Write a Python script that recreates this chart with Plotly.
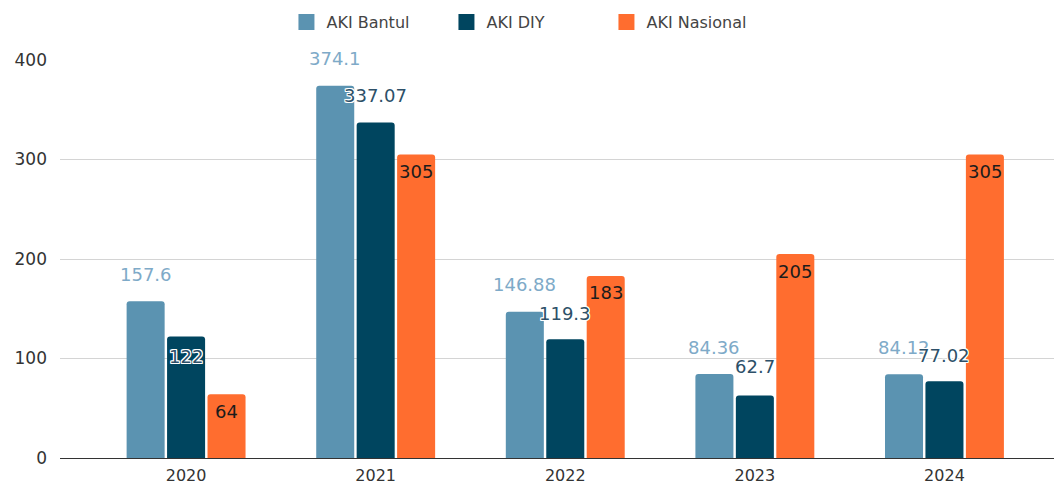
import plotly.graph_objects as go

years = ["2020", "2021", "2022", "2023", "2024"]
aki_bantul = [157.6, 374.1, 146.88, 84.36, 84.12]
aki_diy = [122, 337.07, 119.3, 62.7, 77.02]
aki_nasional = [64, 305, 183, 205, 305]
bantul_labels = ["157.6", "374.1", "146.88", "84.36", "84.12"]
diy_labels = ["122", "337.07", "119.3", "62.7", "77.02"]
nas_labels = ["64", "305", "183", "205", "305"]

C_BANTUL = "#5b93b1"
C_DIY = "#00455f"
C_NAS = "#ff6d2f"

FONT = "DejaVu Sans, Verdana, sans-serif"
BARGAP = 0.36
slot = (1 - BARGAP) / 3

fig = go.Figure()
series = [
    ("AKI Bantul", aki_bantul, C_BANTUL),
    ("AKI DIY", aki_diy, C_DIY),
    ("AKI Nasional", aki_nasional, C_NAS),
]
for name, vals, col in series:
    fig.add_trace(go.Bar(
        name=name, x=years, y=vals, showlegend=False,
        marker=dict(color=col, cornerradius=3, line=dict(width=0)),
        hoverinfo="skip",
    ))
# legend entries with large square swatches
for name, vals, col in series:
    fig.add_trace(go.Scatter(
        name=name, x=[None], y=[None], mode="markers",
        marker=dict(symbol="square", size=20, color=col),
        showlegend=True, hoverinfo="skip",
    ))

halo = ("1px 1px 0 white, -1px -1px 0 white, 1px -1px 0 white, -1px 1px 0 white, "
        "0 1px 0 white, 0 -1px 0 white, 1px 0 0 white, -1px 0 0 white")

annotations = []
diy_shift = [-20, 27, 26, 29, 26]
for i in range(len(years)):
    annotations.append(dict(
        x=i - slot, y=aki_bantul[i], text=bantul_labels[i], showarrow=False,
        yshift=27, xanchor="center", yanchor="middle",
        font=dict(family=FONT, size=18, color="#7eaac8", shadow=halo)))
    annotations.append(dict(
        x=i, y=aki_diy[i], text=diy_labels[i], showarrow=False,
        yshift=diy_shift[i], xanchor="center", yanchor="middle",
        font=dict(family=FONT, size=18, color="#2d5068", shadow=halo)))
    annotations.append(dict(
        x=i + slot, y=aki_nasional[i], text=nas_labels[i], showarrow=False,
        yshift=-17, xanchor="center", yanchor="middle",
        font=dict(family=FONT, size=18, color="#1c1c1c")))

fig.update_layout(
    width=1054, height=477,
    margin=dict(l=52, r=0, t=52, b=27, autoexpand=False),
    paper_bgcolor="white", plot_bgcolor="white",
    barmode="group", bargap=BARGAP, bargroupgap=0.06,
    font=dict(family=FONT, size=17, color="#333333"),
    legend=dict(orientation="h", x=0.226, xanchor="left", y=1.0955, yanchor="middle",
                font=dict(family=FONT, size=16, color="#444444"),
                itemwidth=30, entrywidth=115, traceorder="normal"),
    annotations=annotations,
    xaxis=dict(type="category", range=[-0.665, 4.62], showgrid=False,
               showline=True, linecolor="#333333", linewidth=1,
               ticks="", tickfont=dict(size=16, color="#333333"), automargin=False,
               ticklabelstandoff=3),
    yaxis=dict(range=[0, 400], dtick=100, showgrid=True, gridcolor="#d4d4d4",
               gridwidth=1, zeroline=False, showline=False, ticks="",
               tickfont=dict(size=17, color="#333333"), automargin=False,
               ticklabelstandoff=12),
)
fig.write_html("out.html")
